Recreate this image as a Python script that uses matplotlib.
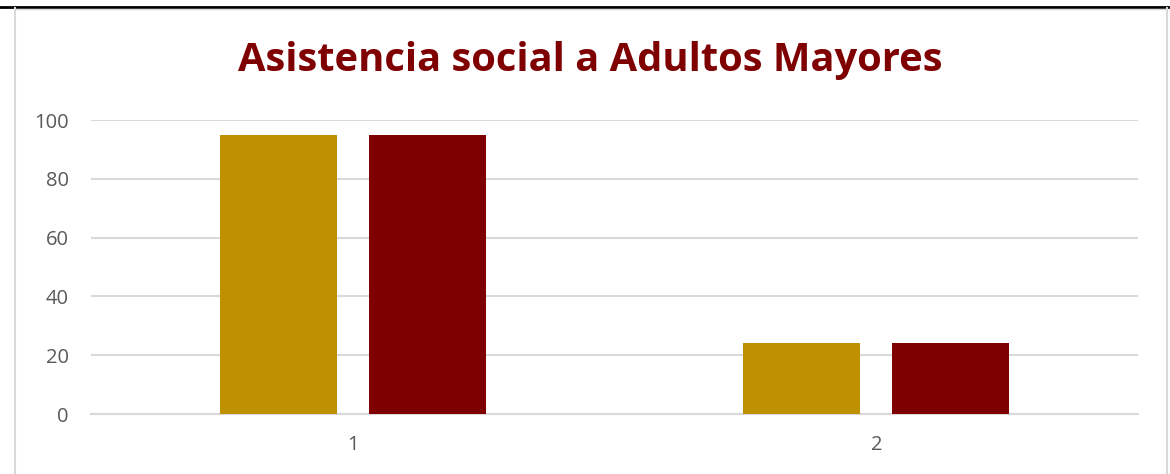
import matplotlib
matplotlib.use("Agg")
import matplotlib.pyplot as plt
from matplotlib.lines import Line2D
import numpy as np

categories = ["1", "2"]
series_a = [95, 24]
series_b = [95, 24]
yticks = [0, 20, 40, 60, 80, 100]
title = "Asistencia social a Adultos Mayores"

plt.rcParams['font.family'] = ['Open Sans', 'DejaVu Sans']

W, H = 1170, 474
fig = plt.figure(figsize=(W/100, H/100), dpi=100)
# plot area: x 91..1138, y 120 (100) .. 414 (0)
ax = fig.add_axes([91/W, 1 - 414/H, (1138-91)/W, (414-120)/H])

x = np.arange(len(categories))
bw = 0.2235
off = 0.1423
ax.bar(x - off, series_a, width=bw, color='#BF9000', zorder=3)
ax.bar(x + off, series_b, width=bw, color='#7F0000', zorder=3)

ax.set_xlim(-0.5, len(categories) - 0.5)
ax.set_ylim(0, 100)
ax.set_yticks(yticks)
ax.set_xticks(x)
ax.set_xticklabels(categories)
ax.grid(axis='y', color='#D9D9D9', linewidth=1.5, zorder=0)
ax.set_axisbelow(True)
for s in ['top', 'right', 'left']:
    ax.spines[s].set_visible(False)
ax.spines['bottom'].set_color('#D9D9D9')
ax.spines['bottom'].set_linewidth(1.5)
ax.tick_params(axis='both', length=0, labelsize=14.5, colors='#595959')
ax.tick_params(axis='y', pad=16)
ax.tick_params(axis='x', pad=15)

fig.text(590/W, 1 - 61/H, title, ha='center', va='center', fontsize=28.7,
         fontweight='bold', color='#7F0000')

# chart frame decorations
fig.add_artist(Line2D([0, 1168/W], [1 - 7/H, 1 - 7/H], color='black', linewidth=2, transform=fig.transFigure))
fig.add_artist(Line2D([15/W, 15/W], [0, 1 - 8/H], color='#D9D9D9', linewidth=1.5, transform=fig.transFigure))
fig.add_artist(Line2D([1167/W, 1167/W], [0, 1 - 8/H], color='#D9D9D9', linewidth=1.5, transform=fig.transFigure))
fig.add_artist(Line2D([15/W, 1167/W], [1 - 9/H, 1 - 9/H], color='#D9D9D9', linewidth=1, transform=fig.transFigure))

fig.savefig("out.png", dpi=100)
